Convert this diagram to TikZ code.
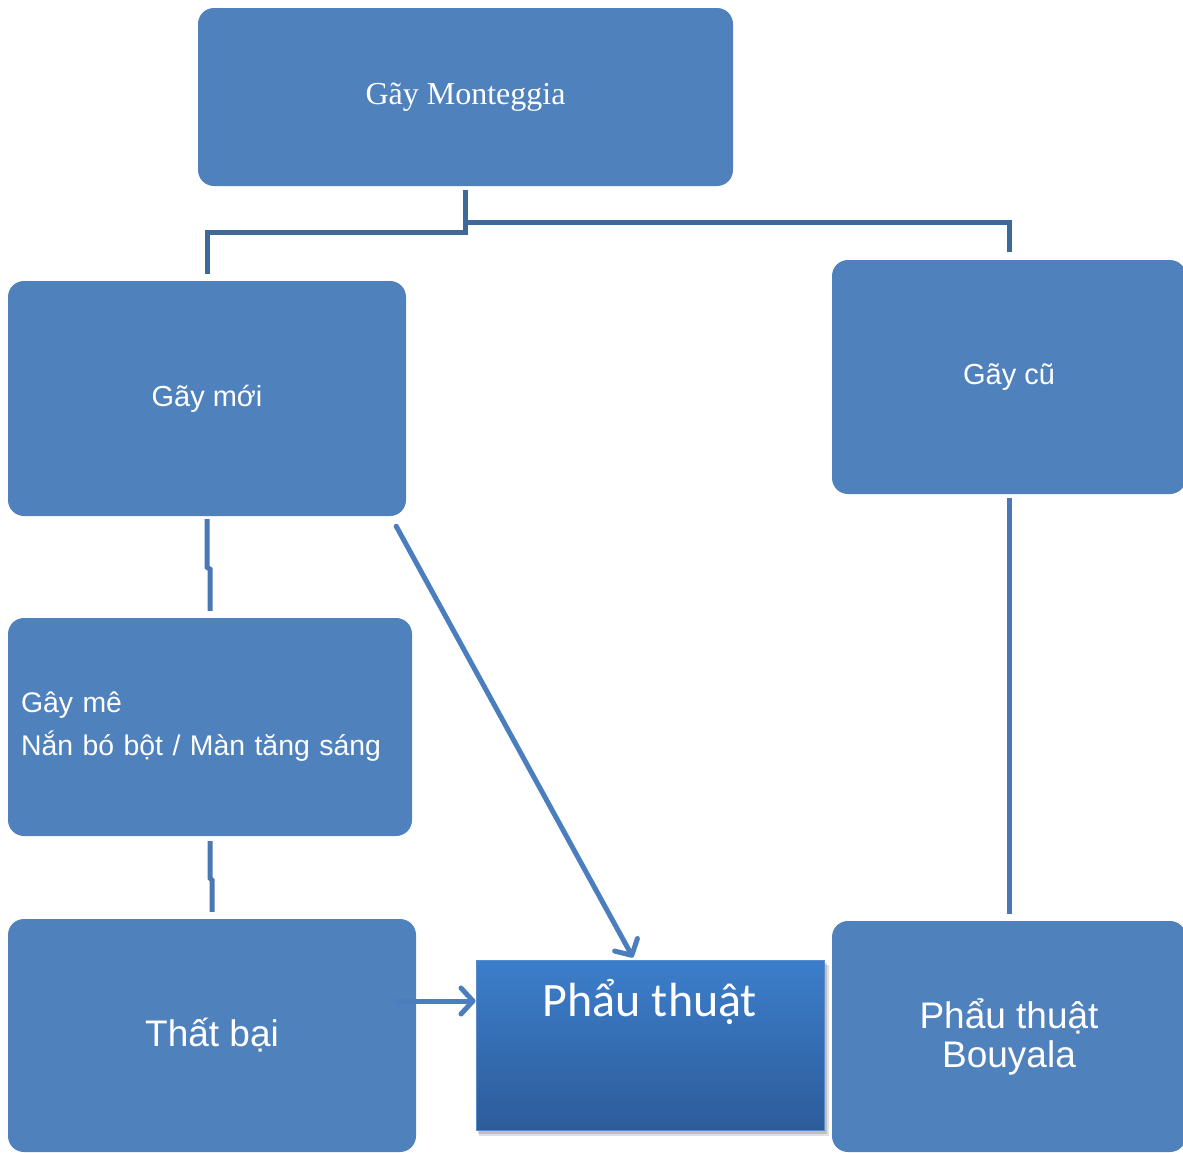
\documentclass[tikz,border=0pt]{standalone}
\usepackage{fontspec}
\setmainfont{Liberation Sans}
\newfontfamily\serifv{Liberation Serif}
\newfontfamily\calib{Carlito}
\usetikzlibrary{arrows.meta,shadows}
\definecolor{boxblue}{RGB}{79,129,189}
\definecolor{conndark}{RGB}{62,104,154}
\definecolor{connmid}{RGB}{74,120,180}
\definecolor{arrblue}{RGB}{74,126,191}
\definecolor{gradtop}{RGB}{60,126,203}
\definecolor{gradbot}{RGB}{45,92,154}
\definecolor{gradedge}{RGB}{90,140,205}
\tikzset{
  bluebox/.style={draw=none, fill=boxblue, rounded corners=16pt, text=white, inner sep=0pt},
  connd/.style={draw=conndark, line width=5pt},
  connm/.style={draw=connmid, line width=5pt},
  arr/.style={draw=arrblue, line width=5pt, line cap=round,
    -{Straight Barb[length=12pt,width=26pt,line width=5pt,round]}},
  txt/.style={text=white, inner sep=0pt}
}
\begin{document}
\begin{tikzpicture}[x=1pt,y=-1pt]
\useasboundingbox (0,0) rectangle (1183,1152);
\clip (0,0) rectangle (1183,1152);
% boxes
\node[bluebox, minimum width=535pt, minimum height=178pt,
  font=\serifv\fontsize{32}{38}\selectfont] (top) at (465.5,97) {Gãy Monteggia};
\node[bluebox, minimum width=398pt, minimum height=235pt,
  font=\fontsize{29}{35}\selectfont] (newf) at (207,398.5) {Gãy mới};
\node[bluebox, minimum width=354pt, minimum height=234pt,
  font=\fontsize{29}{35}\selectfont] (old) at (1009,377) {Gãy cũ};
\node[bluebox, minimum width=404pt, minimum height=218pt, text width=378pt, align=left,
  font=\fontsize{28.4}{43}\selectfont] (gm) at (210,727)
  {Gây mê\\Nắn bó bột / Màn tăng sáng};
\node[bluebox, minimum width=408pt, minimum height=233pt,
  font=\fontsize{37}{42}\selectfont] (tb) at (212,1035.5) {Thất bại};
\node[bluebox, minimum width=354pt, minimum height=231pt, align=center,
  font=\fontsize{37}{39}\selectfont] (bou) at (1009,1036.5)
  {Phẩu thuật\\Bouyala};
\fill[black, opacity=0.12] (479,965) rectangle (829,1136);
\fill[black, opacity=0.15] (478,963) rectangle (827,1134);
\node[draw=gradedge, line width=1pt, top color=gradtop, bottom color=gradbot,
  minimum width=348pt, minimum height=170pt, inner sep=0pt] (surg) at (650,1045) {};
\node[txt, font=\calib\fontsize{48}{56}\selectfont] (surgtext) at (650,1002) {Phẩu thuật};
% top connectors
\coordinate (jl) at (465.5,232);
\coordinate (jr) at (465.5,222);
\draw[connd, shorten <=4pt, shorten >=7pt] (top.south) -- (jl) -| (newf.north);
\draw[connd, shorten >=8pt] (jr) -| (old.north);
% left chain connectors
\draw[connm, shorten <=3pt, shorten >=7pt] (newf.south) -- ++(0,51) -- ++(3,2) -- (gm.north);
\draw[connm, shorten <=5pt, shorten >=7pt] (gm.south) -- ++(0,42) -- ++(2,2) -- (tb.north);
% right connector
\draw[connm, shorten <=4pt, shorten >=7pt] (old.south) -- (bou.north);
% arrows
\draw[arr] ([shift={(-10,10)}]newf.south east) -- ([xshift=-17pt,yshift=2pt]surg.north);
\coordinate (fs) at (396,1001);
\draw[arr] (fs) -- (fs -| surg.west);
\end{tikzpicture}
\end{document}
